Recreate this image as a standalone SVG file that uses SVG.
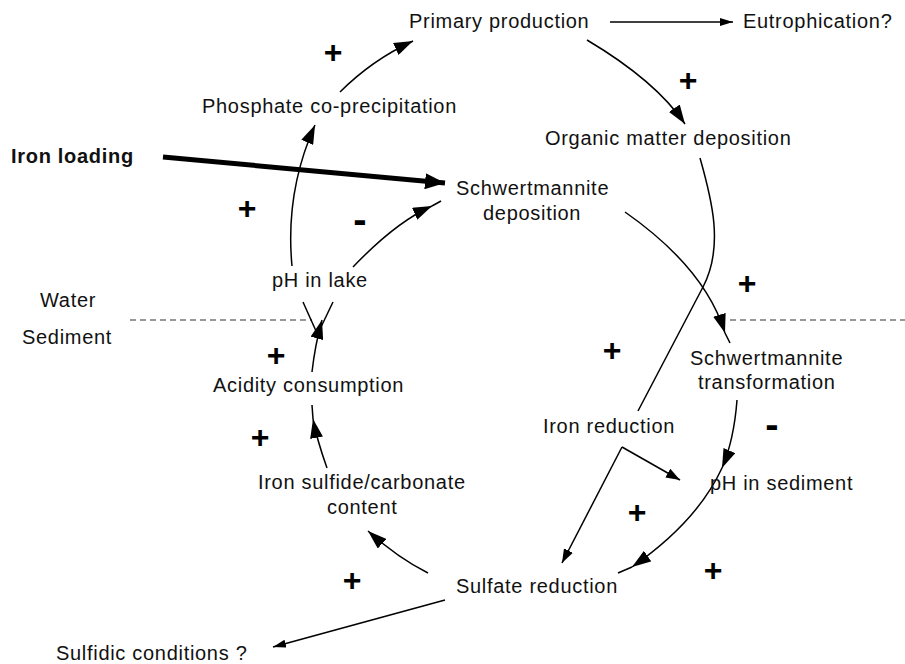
<svg xmlns="http://www.w3.org/2000/svg" width="905" height="664" viewBox="0 0 905 664">
<style>
.t{font-family:"Liberation Sans",Arial,Helvetica,sans-serif;font-size:20px;letter-spacing:0.7px;fill:#111}
.b{font-weight:bold}
.sg{font-family:"Liberation Sans",Arial,sans-serif;font-weight:bold;font-size:32px;fill:#000;text-anchor:middle}
.mn{font-size:40px}
.c{fill:none;stroke:#000;stroke-width:1.5}
.dash{fill:none;stroke:#333;stroke-width:1.2;stroke-dasharray:6 4}
</style>
<defs>
<marker id="big" viewBox="0 0 19 13" refX="19" refY="6.5" markerWidth="19" markerHeight="13" markerUnits="userSpaceOnUse" orient="auto"><path d="M0,0 L19,6.5 L0,13 Z" fill="#000"/></marker>
<marker id="mid" viewBox="0 0 14 10" refX="14" refY="5" markerWidth="14" markerHeight="10" markerUnits="userSpaceOnUse" orient="auto"><path d="M0,0 L14,5 L0,10 Z" fill="#000"/></marker>
<marker id="small" viewBox="0 0 13 8" refX="13" refY="4" markerWidth="13" markerHeight="8" markerUnits="userSpaceOnUse" orient="auto"><path d="M0,0 L13,4 L0,8 Z" fill="#000"/></marker>
<marker id="thick" viewBox="0 0 20 16" refX="20" refY="8" markerWidth="20" markerHeight="16" markerUnits="userSpaceOnUse" orient="auto"><path d="M0,0 L20,8 L0,16 Z" fill="#000"/></marker>
</defs>

<g id="layers">
<line class="dash" x1="130" y1="320" x2="312" y2="320"/>
<line class="dash" x1="730" y1="320" x2="905" y2="320"/>
<text class="t" x="40" y="307">Water</text>
<text class="t" x="22" y="344">Sediment</text>
</g>

<g id="connectors">
<path class="c" d="M340,92 Q372,60 413,41" marker-end="url(#big)"/>
<path class="c" d="M587,40 Q656,81 685,124" marker-end="url(#big)"/>
<path class="c" d="M610,22 L733,22" marker-end="url(#small)"/>
<path d="M163,157 L445,183" fill="none" stroke="#000" stroke-width="5" marker-end="url(#thick)"/>
<path class="c" d="M292,266 Q285,192 315,125" marker-end="url(#big)"/>
<path class="c" d="M353,267 Q396,222 432,206" marker-end="url(#big)"/>
<path class="c" d="M432,206 L441,201"/>
<path class="c" d="M312,372 Q315,345 322,320" marker-end="url(#big)"/>
<path class="c" d="M303,302 L316,331"/>
<path class="c" d="M333,302 L321,327"/>
<path class="c" d="M327,468 Q317,440 313,419" marker-end="url(#big)"/>
<path class="c" d="M313,419 L312,405"/>
<path class="c" d="M428,573 Q398,558 368,531" marker-end="url(#big)"/>
<path class="c" d="M445,600 L273,647" marker-end="url(#small)"/>
<path class="c" d="M700,158 C712,200 724,247 703,287 L638,411"/>
<path class="c" d="M622,447 L680,480" marker-end="url(#mid)"/>
<path class="c" d="M622,447 L562,563" marker-end="url(#mid)"/>
<path class="c" d="M625,212 Q705,268 725,333" marker-end="url(#big)"/>
<path class="c" d="M725,333 L730,343"/>
<path class="c" d="M737,400 Q734,440 722,468" marker-end="url(#big)"/>
<path class="c" d="M722,468 Q697,522 632,567" marker-end="url(#big)"/>
<path class="c" d="M632,567 L618,573"/>
</g>

<g id="signs">
<text class="sg" x="333" y="63">+</text>
<text class="sg" x="688" y="91">+</text>
<text class="sg" x="247" y="219">+</text>
<text class="sg mn" x="360" y="233">-</text>
<text class="sg" x="747" y="294">+</text>
<text class="sg" x="612" y="361">+</text>
<text class="sg" x="276" y="366">+</text>
<text class="sg mn" x="772" y="438">-</text>
<text class="sg" x="260" y="448">+</text>
<text class="sg" x="637" y="523">+</text>
<text class="sg" x="713" y="581">+</text>
<text class="sg" x="352" y="591">+</text>
</g>

<g id="n-primary"><text class="t" x="409" y="28">Primary production</text></g>
<g id="n-eutrophication"><text class="t" x="743" y="28">Eutrophication?</text></g>
<g id="n-phosphate"><text class="t" x="202" y="113">Phosphate co-precipitation</text></g>
<g id="n-organic"><text class="t" x="545" y="145">Organic matter deposition</text></g>
<g id="n-ironloading"><text class="t b" x="11" y="163">Iron loading</text></g>
<g id="n-schwdep"><text class="t" x="456" y="195">Schwertmannite</text><text class="t" x="483" y="220">deposition</text></g>
<g id="n-phlake"><text class="t" x="272" y="287">pH in lake</text></g>
<g id="n-schwtrans"><text class="t" x="690" y="365">Schwertmannite</text><text class="t" x="698" y="389">transformation</text></g>
<g id="n-acidity"><text class="t" x="213" y="392">Acidity consumption</text></g>
<g id="n-ironred"><text class="t" x="543" y="433">Iron reduction</text></g>
<g id="n-ironsulfide"><text class="t" x="258" y="489">Iron sulfide/carbonate</text><text class="t" x="327" y="514">content</text></g>
<g id="n-phsed"><text class="t" x="710" y="490">pH in sediment</text></g>
<g id="n-sulfate"><text class="t" x="456" y="593">Sulfate reduction</text></g>
<g id="n-sulfidic"><text class="t" x="56" y="660">Sulfidic conditions ?</text></g>
</svg>
